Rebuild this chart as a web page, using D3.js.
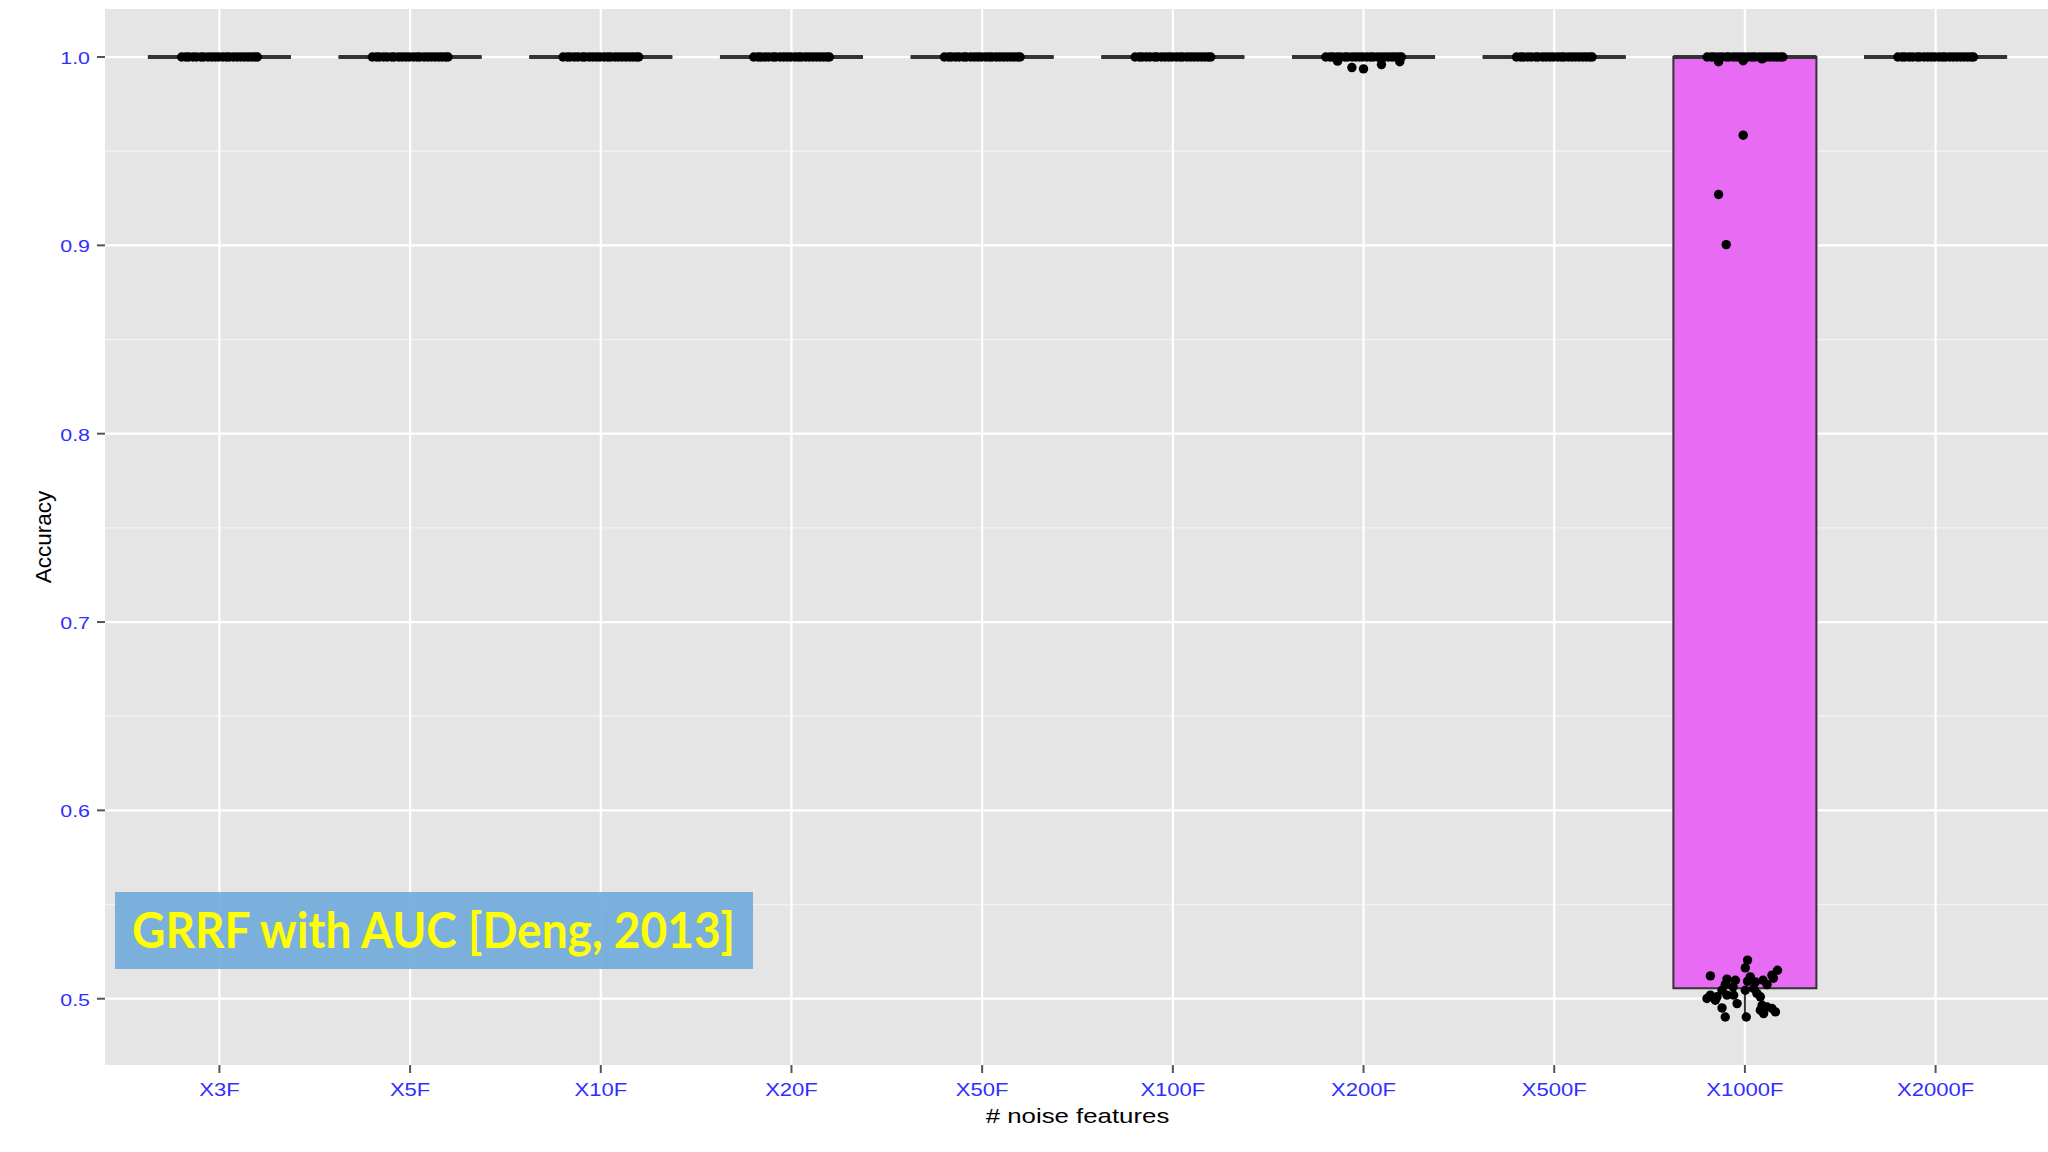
<!DOCTYPE html>
<html>
<head>
<meta charset="utf-8">
<script src="https://cdn.jsdelivr.net/npm/d3@7"></script>
<style>
  body { margin: 0; background: #fff; }
  svg { display: block; }
</style>
</head>
<body>
<div id="chart"></div>
<script>
// categories and box statistics
const categories = ['X3F', 'X5F', 'X10F', 'X20F', 'X50F', 'X100F', 'X200F', 'X500F', 'X1000F', 'X2000F']
const boxColors = ['#F8766D', '#D89000', '#A3A500', '#39B600', '#00BF7D', '#00BFC4', '#00B0F6', '#9590FF', '#E76BF3', '#FF62BC']
const whiskerLow = [1, 1, 1, 1, 1, 1, 1, 1, 0.4903, 1]
const quartile1 = [1, 1, 1, 1, 1, 1, 1, 1, 0.5056, 1]
const medians = [1, 1, 1, 1, 1, 1, 1, 1, 1, 1]
const quartile3 = [1, 1, 1, 1, 1, 1, 1, 1, 1, 1]
const whiskerHigh = [1, 1, 1, 1, 1, 1, 1, 1, 1, 1]

const yTicks = [0.5, 0.6, 0.7, 0.8, 0.9, 1.0]
const yMinor = [0.55, 0.65, 0.75, 0.85, 0.95]

// jittered runs: [offset in category widths, accuracy]
// runs at accuracy 1.0, found in every group
const perfectOffsets = [-0.198, -0.176, -0.161, -0.139, -0.12, -0.097, -0.083, -0.06, -0.041, -0.022, -0.004,
    0.018, 0.037, 0.052, 0.074, 0.093, 0.112, 0.131, 0.15, 0.168, 0.186, 0.199]
const x200FBelow = [[-0.136, 0.9978], [-0.061, 0.9944], [0, 0.9937], [0.094, 0.996], [0.19, 0.9975]]
const x1000FHigh = [[-0.138, 0.9975], [-0.009, 0.998], [0.09, 0.999], [-0.009, 0.9585], [-0.138, 0.927], [-0.098, 0.9004]]
const x1000FLow = [
    [0.014, 0.5205], [0.002, 0.5164], [-0.181, 0.5121], [0.171, 0.5151], [0.142, 0.5125], [-0.094, 0.5104],
    [-0.05, 0.5098], [-0.103, 0.5075], [-0.062, 0.5063], [0.014, 0.5093], [0.055, 0.5089], [0.095, 0.5098],
    [0.116, 0.5075], [0.046, 0.5054], [0.002, 0.5045], [-0.12, 0.5045], [-0.181, 0.5019], [-0.146, 0.501],
    [-0.094, 0.5019], [-0.059, 0.5019], [-0.199, 0.5001], [-0.155, 0.4992], [-0.041, 0.4974], [0.063, 0.5028],
    [0.081, 0.501], [-0.12, 0.4951], [-0.103, 0.4903], [0.007, 0.4903], [0.081, 0.4939], [0.116, 0.4956],
    [0.142, 0.4948], [0.16, 0.493], [0.098, 0.4921], [0.09, 0.4965], [0.028, 0.5116], [0.149, 0.5109]
]

const width = 2048, height = 1152
const panel = { left: 105, right: 2050, top: 9, bottom: 1065 }
const textStretch = 1.26

var svg = d3.select('#chart')
    .append('svg')
    .attr('width', width)
    .attr('height', height)

svg.append('rect')
    .attr('width', width)
    .attr('height', height)
    .attr('fill', '#fff')

var x = d3.scalePoint()
    .domain(categories)
    .range([panel.left, panel.right])
    .padding(0.6)

var y = d3.scaleLinear()
    .domain([0.4648, 1.0255])
    .range([panel.bottom, panel.top])

var step = x.step()
var boxHalf = step * 0.75 / 2

// panel + grid
svg.append('rect')
    .attr('x', panel.left)
    .attr('y', panel.top)
    .attr('width', panel.right - panel.left)
    .attr('height', panel.bottom - panel.top)
    .attr('fill', '#E5E5E5')

svg.selectAll('.minor')
    .data(yMinor)
    .enter()
    .append('line')
    .attr('x1', panel.left)
    .attr('x2', panel.right)
    .attr('y1', d => y(d))
    .attr('y2', d => y(d))
    .attr('stroke', '#F2F2F2')
    .attr('stroke-width', 1.4)

svg.selectAll('.major-y')
    .data(yTicks)
    .enter()
    .append('line')
    .attr('x1', panel.left)
    .attr('x2', panel.right)
    .attr('y1', d => y(d))
    .attr('y2', d => y(d))
    .attr('stroke', '#fff')
    .attr('stroke-width', 2.2)

svg.selectAll('.major-x')
    .data(categories)
    .enter()
    .append('line')
    .attr('x1', d => x(d))
    .attr('x2', d => x(d))
    .attr('y1', panel.top)
    .attr('y2', panel.bottom)
    .attr('stroke', '#fff')
    .attr('stroke-width', 2.2)

// boxplots
var boxes = svg.selectAll('.box')
    .data(categories)
    .enter()
    .append('g')

boxes.append('line')
    .attr('x1', d => x(d))
    .attr('x2', d => x(d))
    .attr('y1', (d, i) => y(quartile1[i]))
    .attr('y2', (d, i) => y(whiskerLow[i]))
    .attr('stroke', '#333')
    .attr('stroke-width', 2)

boxes.append('line')
    .attr('x1', d => x(d))
    .attr('x2', d => x(d))
    .attr('y1', (d, i) => y(quartile3[i]))
    .attr('y2', (d, i) => y(whiskerHigh[i]))
    .attr('stroke', '#333')
    .attr('stroke-width', 2)

boxes.append('path')
    .attr('d', (d, i) => {
        let x0 = x(d) - boxHalf, x1 = x(d) + boxHalf
        return `M${x0},${y(quartile3[i])}H${x1}V${y(quartile1[i])}H${x0}Z`
    })
    .attr('fill', (d, i) => boxColors[i])
    .attr('stroke', '#333')
    .attr('stroke-width', 2)

boxes.append('line')
    .attr('x1', d => x(d) - boxHalf)
    .attr('x2', d => x(d) + boxHalf)
    .attr('y1', (d, i) => y(medians[i]))
    .attr('y2', (d, i) => y(medians[i]))
    .attr('stroke', '#333')
    .attr('stroke-width', 4)

// jittered points
var points = []
categories.forEach(c => {
    perfectOffsets.forEach(o => points.push({ cat: c, dx: o, v: 1 }))
})
x200FBelow.forEach(p => points.push({ cat: 'X200F', dx: p[0], v: p[1] }))
x1000FHigh.forEach(p => points.push({ cat: 'X1000F', dx: p[0], v: p[1] }))
x1000FLow.forEach(p => points.push({ cat: 'X1000F', dx: p[0], v: p[1] }))

svg.selectAll('.pt')
    .data(points)
    .enter()
    .append('circle')
    .attr('cx', d => x(d.cat) + d.dx * step)
    .attr('cy', d => y(d.v))
    .attr('r', 4.7)
    .attr('fill', '#000')

// axes: ticks + labels
svg.selectAll('.ytick')
    .data(yTicks)
    .enter()
    .append('line')
    .attr('x1', panel.left - 8)
    .attr('x2', panel.left)
    .attr('y1', d => y(d))
    .attr('y2', d => y(d))
    .attr('stroke', '#555')
    .attr('stroke-width', 2)

svg.selectAll('.ylabel')
    .data(yTicks)
    .enter()
    .append('text')
    .attr('transform', d => `translate(90,${y(d) + 7})scale(${textStretch},1)`)
    .attr('text-anchor', 'end')
    .attr('font-family', 'Liberation Sans, Arial, sans-serif')
    .attr('font-size', 17)
    .attr('fill', '#2f2fff')
    .text(d => d3.format('.1f')(d))

svg.selectAll('.xtick')
    .data(categories)
    .enter()
    .append('line')
    .attr('x1', d => x(d))
    .attr('x2', d => x(d))
    .attr('y1', panel.bottom)
    .attr('y2', panel.bottom + 8)
    .attr('stroke', '#555')
    .attr('stroke-width', 2)

svg.selectAll('.xlabel')
    .data(categories)
    .enter()
    .append('text')
    .attr('transform', d => `translate(${x(d)},1096)scale(${textStretch},1)`)
    .attr('text-anchor', 'middle')
    .attr('font-family', 'Liberation Sans, Arial, sans-serif')
    .attr('font-size', 17.5)
    .attr('fill', '#2f2fff')
    .text(d => d)

svg.append('text')
    .attr('transform', `translate(${(panel.left + panel.right) / 2},1123)scale(${textStretch},1)`)
    .attr('text-anchor', 'middle')
    .attr('font-family', 'Liberation Sans, Arial, sans-serif')
    .attr('font-size', 20.5)
    .attr('fill', '#000')
    .text('# noise features')

svg.append('text')
    .attr('transform', `translate(51,${(panel.top + panel.bottom) / 2})rotate(-90)`)
    .attr('text-anchor', 'middle')
    .attr('font-family', 'Liberation Sans, Arial, sans-serif')
    .attr('font-size', 22.5)
    .attr('fill', '#000')
    .text('Accuracy')

// annotation label
svg.append('rect')
    .attr('x', 115)
    .attr('y', 892)
    .attr('width', 638)
    .attr('height', 77)
    .attr('fill', '#72AADB')
    .attr('opacity', 0.92)

svg.append('text')
    .attr('x', 132)
    .attr('y', 948)
    .attr('textLength', 603)
    .attr('lengthAdjust', 'spacingAndGlyphs')
    .attr('font-family', 'Lato, Open Sans, sans-serif')
    .attr('font-weight', 'bold')
    .attr('font-size', 50)
    .attr('fill', '#FFFF00')
    .text('GRRF with AUC [Deng, 2013]')
</script>
</body>
</html>
